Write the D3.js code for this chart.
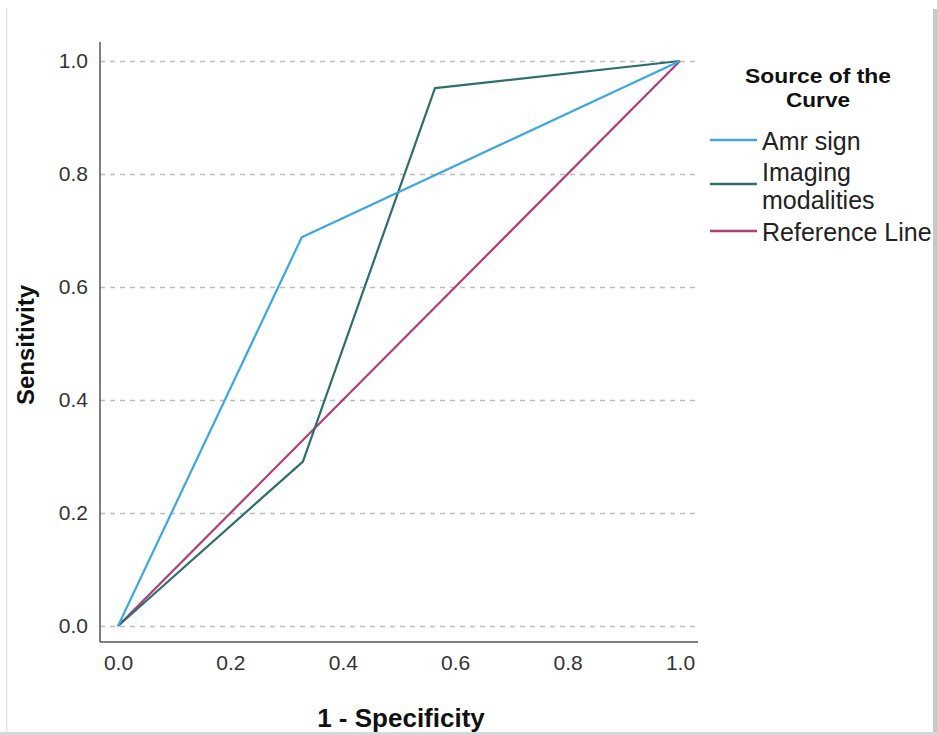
<!DOCTYPE html>
<html>
<head>
<meta charset="utf-8">
<script src="https://cdn.jsdelivr.net/npm/d3@7"></script>
<style>
  body { margin: 0; background: #fff; }
  svg { display: block; font-family: "Liberation Sans", Arial, sans-serif; }
  .grid line { stroke: #bdbdbd; stroke-width: 1.5; stroke-dasharray: 5,5; }
</style>
</head>
<body>
<svg id="vis" width="937" height="735"></svg>
<script>
// ROC curve points (1 - specificity, sensitivity)
var amrX = [0, 0.327, 1];
var amrY = [0, 0.688, 1];
var imgX = [0, 0.329, 0.564, 1];
var imgY = [0, 0.291, 0.952, 1];
var refX = [0, 1];
var refY = [0, 1];
var tickVals = [0, 0.2, 0.4, 0.6, 0.8, 1.0];
var seriesNames = ["Amr sign", "Imaging modalities", "Reference Line"];
var seriesColors = ["#3ea7df", "#2e6f6b", "#b03c78"];

var svg = d3.select("#vis");

// frame bits from the screenshot
svg.append("rect").attr("x", 6).attr("y", 9).attr("width", 1.5).attr("height", 726).attr("fill", "#e6e6e6");
svg.append("rect").attr("x", 933).attr("y", 9).attr("width", 4).attr("height", 726).attr("fill", "#c8c8c8");
svg.append("rect").attr("x", 0).attr("y", 732).attr("width", 937).attr("height", 3).attr("fill", "#d8d8d8");

//set the ranges
var plotLeft = 100, plotRight = 698, plotTop = 42, plotBottom = 642;
var xRange = d3.scaleLinear().domain([0, 1]).range([118, 680]);
var yRange = d3.scaleLinear().domain([0, 1]).range([626, 61]);

//y axis + dashed gridlines
var yAxis = d3.axisLeft(yRange)
  .tickValues(tickVals)
  .tickFormat(d3.format(".1f"))
  .tickSizeInner(-(plotRight - plotLeft))
  .tickSizeOuter(0)
  .tickPadding(12);
var yg = svg.append("g")
  .attr("class", "grid")
  .attr("transform", "translate(" + plotLeft + ",0)")
  .call(yAxis);
yg.select(".domain").remove();

//x axis, labels only
var xAxis = d3.axisBottom(xRange)
  .tickValues(tickVals)
  .tickFormat(d3.format(".1f"))
  .tickSize(0)
  .tickPadding(13);
var xg = svg.append("g")
  .attr("transform", "translate(0," + plotBottom + ")")
  .call(xAxis);
xg.select(".domain").remove();

svg.selectAll(".tick text")
  .style("font-size", "21px")
  .style("fill", "#333");

//axis lines
svg.append("line").attr("x1", plotLeft).attr("x2", plotLeft).attr("y1", plotTop).attr("y2", plotBottom)
  .attr("stroke", "#555").attr("stroke-width", 1.5);
svg.append("line").attr("x1", plotLeft).attr("x2", plotRight).attr("y1", plotBottom).attr("y2", plotBottom)
  .attr("stroke", "#555").attr("stroke-width", 1.5);

//axis titles
svg.append("text")
  .attr("x", 401).attr("y", 727)
  .attr("text-anchor", "middle")
  .style("font-weight", "bold").style("font-size", "26px").style("fill", "#111")
  .text("1 - Specificity");
svg.append("text")
  .attr("transform", "translate(34,345) rotate(-90)")
  .attr("text-anchor", "middle")
  .style("font-weight", "bold").style("font-size", "24px").style("fill", "#111")
  .attr("textLength", 120).attr("lengthAdjust", "spacingAndGlyphs")
  .text("Sensitivity");

//lines
var lineFunc = d3.line()
  .x(function(d) { return xRange(d[0]); })
  .y(function(d) { return yRange(d[1]); });

var allSeries = [[refX, refY], [imgX, imgY], [amrX, amrY]];
var colorOrder = [seriesColors[2], seriesColors[1], seriesColors[0]];
for (var i = 0; i < allSeries.length; i++) {
  var pts = d3.zip(allSeries[i][0], allSeries[i][1]);
  svg.append("path")
    .attr("d", lineFunc(pts))
    .attr("stroke", colorOrder[i])
    .attr("stroke-width", 2.2)
    .attr("stroke-linejoin", "round")
    .attr("fill", "none");
}

//legend
var lg = svg.append("g");
lg.append("text").attr("x", 818).attr("y", 83).attr("text-anchor", "middle")
  .style("font-weight", "bold").style("font-size", "20px").style("fill", "#111")
  .attr("textLength", 146).attr("lengthAdjust", "spacingAndGlyphs")
  .text("Source of the");
lg.append("text").attr("x", 818).attr("y", 107).attr("text-anchor", "middle")
  .style("font-weight", "bold").style("font-size", "20px").style("fill", "#111")
  .attr("textLength", 64).attr("lengthAdjust", "spacingAndGlyphs")
  .text("Curve");

var legendLineY = [140, 184, 231];
var legendText = [["Amr sign"], ["Imaging", "modalities"], ["Reference Line"]];
var legendTextY = [[150], [181, 209], [241]];
for (var k = 0; k < seriesNames.length; k++) {
  lg.append("line")
    .attr("x1", 710).attr("x2", 757)
    .attr("y1", legendLineY[k]).attr("y2", legendLineY[k])
    .attr("stroke", seriesColors[k]).attr("stroke-width", 2.5);
  for (var j = 0; j < legendText[k].length; j++) {
    lg.append("text")
      .attr("x", 762).attr("y", legendTextY[k][j])
      .style("font-size", "25px").style("fill", "#222")
      .text(legendText[k][j]);
  }
}
</script>
</body>
</html>
